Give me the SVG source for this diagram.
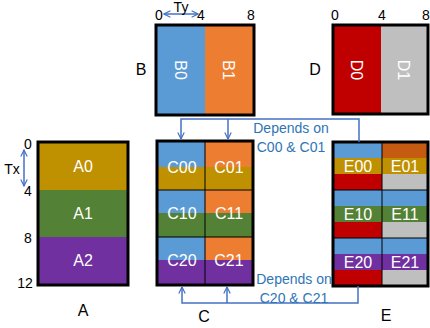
<svg xmlns="http://www.w3.org/2000/svg" width="430" height="328" viewBox="0 0 430 328">
<style>
text{font-family:"Liberation Sans",Arial,sans-serif}
.lbl{font-size:16px;fill:#000;text-anchor:middle}
.num{font-size:14px;fill:#000;text-anchor:middle}
.cell{font-size:16px;fill:#fff;text-anchor:middle}
.dep{font-size:14px;fill:#2E75B6;text-anchor:middle}
.frame{fill:none;stroke:#000;stroke-width:3}
.div{stroke:#000;stroke-width:1;fill:none}
.con{fill:none;stroke:#4472C4;stroke-width:1.5}
.blue{fill:#5B9BD5}.orange{fill:#ED7D31}.gold{fill:#BF9000}.green{fill:#538135}
.purple{fill:#7030A0}.red{fill:#C00000}.grey{fill:#BFBFBF}.dorange{fill:#C55A11}
</style>
<defs>
<marker id="chev" viewBox="0 0 10 10" refX="9" refY="5" markerWidth="8" markerHeight="8" markerUnits="userSpaceOnUse" orient="auto-start-reverse">
<path d="M1,1 L9,5 L1,9" fill="none" stroke="#4472C4" stroke-width="1.5"/>
</marker>
</defs>

<g id="A">
<rect class="gold" x="38" y="142" width="90" height="48"/>
<rect class="green" x="38" y="190" width="90" height="47"/>
<rect class="purple" x="38" y="237" width="90" height="48"/>
<rect class="frame" x="38" y="142" width="90" height="143"/>
<text class="cell" x="83" y="172">A0</text>
<text class="cell" x="83" y="219">A1</text>
<text class="cell" x="83" y="266">A2</text>
<text class="num" x="28" y="149">0</text>
<text class="num" x="28" y="196">4</text>
<text class="num" x="28" y="243">8</text>
<text class="num" x="25" y="288">12</text>
<text class="num" x="12" y="174">Tx</text>
<line class="con" x1="24" y1="150" x2="24" y2="186" marker-start="url(#chev)" marker-end="url(#chev)"/>
<text class="lbl" x="83" y="316">A</text>
</g>

<g id="B">
<rect class="blue" x="156" y="25" width="49" height="90"/>
<rect class="orange" x="205" y="25" width="49" height="90"/>
<rect class="frame" x="156" y="25" width="98" height="90"/>
<text class="cell" transform="translate(181,70) rotate(90)" y="6">B0</text>
<text class="cell" transform="translate(229,70) rotate(90)" y="6">B1</text>
<text class="num" x="159" y="20">0</text>
<text class="num" x="201" y="20">4</text>
<text class="num" x="251" y="20">8</text>
<line class="con" x1="164" y1="14" x2="198" y2="14" marker-start="url(#chev)" marker-end="url(#chev)"/>
<text class="num" x="181" y="12">Ty</text>
<text class="lbl" x="141" y="75">B</text>
</g>

<g id="D">
<rect class="red" x="333" y="25" width="48" height="89"/>
<rect class="grey" x="381" y="25" width="47" height="89"/>
<rect class="frame" x="333" y="25" width="95" height="89"/>
<text class="cell" transform="translate(357,70) rotate(90)" y="6">D0</text>
<text class="cell" transform="translate(404,70) rotate(90)" y="6">D1</text>
<text class="num" x="335" y="20">0</text>
<text class="num" x="382" y="20">4</text>
<text class="num" x="426" y="20">8</text>
<text class="lbl" x="315" y="75">D</text>
</g>

<g id="C">
<rect class="blue" x="157" y="141" width="48" height="26"/>
<rect class="gold" x="157" y="167" width="48" height="23"/>
<rect class="orange" x="205" y="141" width="48" height="26"/>
<rect class="gold" x="205" y="167" width="48" height="23"/>
<rect class="blue" x="157" y="190" width="48" height="23"/>
<rect class="green" x="157" y="213" width="48" height="24"/>
<rect class="orange" x="205" y="190" width="48" height="23"/>
<rect class="green" x="205" y="213" width="48" height="24"/>
<rect class="blue" x="157" y="237" width="48" height="23"/>
<rect class="purple" x="157" y="260" width="48" height="25"/>
<rect class="orange" x="205" y="237" width="48" height="23"/>
<rect class="purple" x="205" y="260" width="48" height="25"/>
<path class="div" d="M205,141V285M157,190H253M157,237H253"/>
<rect class="frame" x="157" y="141" width="96" height="144"/>
<text class="cell" x="182" y="173">C00</text>
<text class="cell" x="229" y="173">C01</text>
<text class="cell" x="182" y="219">C10</text>
<text class="cell" x="229" y="219">C11</text>
<text class="cell" x="182" y="266">C20</text>
<text class="cell" x="229" y="266">C21</text>
<text class="lbl" x="204" y="322">C</text>
</g>

<g id="E">
<rect class="blue" x="333" y="142" width="49" height="16"/>
<rect class="gold" x="333" y="158" width="49" height="16"/>
<rect class="red" x="333" y="174" width="49" height="16"/>
<rect class="dorange" x="382" y="142" width="47" height="16"/>
<rect class="gold" x="382" y="158" width="47" height="16"/>
<rect class="grey" x="382" y="174" width="47" height="16"/>
<rect class="blue" x="333" y="190" width="49" height="16"/>
<rect class="green" x="333" y="206" width="49" height="16"/>
<rect class="red" x="333" y="222" width="49" height="16"/>
<rect class="blue" x="382" y="190" width="47" height="16"/>
<rect class="green" x="382" y="206" width="47" height="16"/>
<rect class="grey" x="382" y="222" width="47" height="16"/>
<rect class="blue" x="333" y="238" width="49" height="16"/>
<rect class="purple" x="333" y="254" width="49" height="16"/>
<rect class="red" x="333" y="270" width="49" height="16"/>
<rect class="blue" x="382" y="238" width="47" height="16"/>
<rect class="purple" x="382" y="254" width="47" height="16"/>
<rect class="grey" x="382" y="270" width="47" height="16"/>
<path class="div" d="M382,142V286M333,190H429M333,238H429"/>
<rect class="frame" x="333" y="142" width="95" height="144"/>
<text class="cell" x="358" y="172">E00</text>
<text class="cell" x="405" y="172">E01</text>
<text class="cell" x="358" y="220">E10</text>
<text class="cell" x="405" y="220">E11</text>
<text class="cell" x="358" y="268">E20</text>
<text class="cell" x="405" y="268">E21</text>
<text class="lbl" x="386" y="321">E</text>
</g>

<g id="connectors">
<path class="con" d="M359,142V119H181V139" marker-end="url(#chev)"/>
<path class="con" d="M228,119V139" marker-end="url(#chev)"/>
<path class="con" d="M358,286V303H182V287" marker-end="url(#chev)"/>
<path class="con" d="M227,303V287" marker-end="url(#chev)"/>
<text class="dep" x="291" y="133">Depends on</text>
<text class="dep" x="291" y="152">C00 &amp; C01</text>
<text class="dep" x="294" y="284">Depends on</text>
<text class="dep" x="294" y="303">C20 &amp; C21</text>
</g>
</svg>
